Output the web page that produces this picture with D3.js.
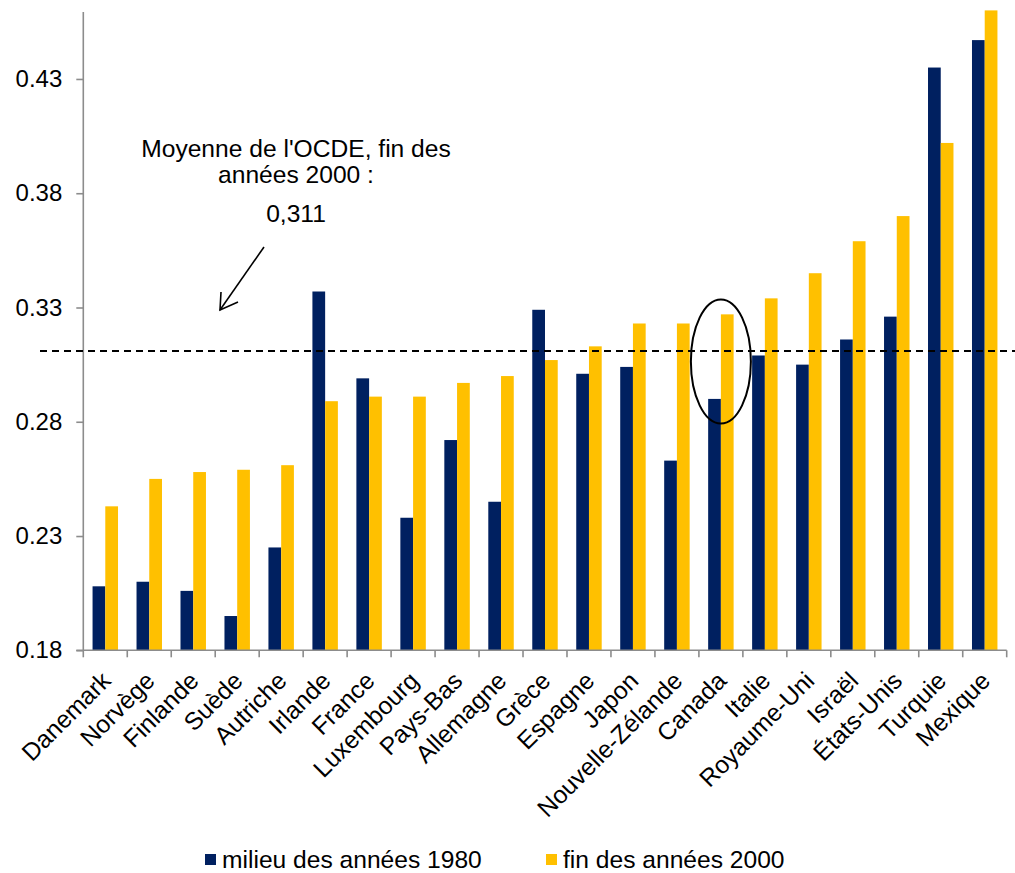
<!DOCTYPE html>
<html>
<head>
<meta charset="utf-8">
<script src="https://cdn.jsdelivr.net/npm/d3@7"></script>
<style>
  html, body { margin: 0; padding: 0; background: #fff; }
  svg { display: block; font-family: "Liberation Sans", Arial, sans-serif; }
</style>
</head>
<body>
<svg id="chart" width="1015" height="873"></svg>
<script>
// Gini coefficients of household income, OECD countries
const countries = ["Danemark", "Norvège", "Finlande", "Suède", "Autriche", "Irlande", "France",
  "Luxembourg", "Pays-Bas", "Allemagne", "Grèce", "Espagne", "Japon", "Nouvelle-Zélande",
  "Canada", "Italie", "Royaume-Uni", "Israël", "États-Unis", "Turquie", "Mexique"];
const mid1980s = [0.208, 0.210, 0.206, 0.195, 0.225, 0.337, 0.299, 0.238, 0.272, 0.245, 0.329,
  0.301, 0.304, 0.263, 0.290, 0.309, 0.305, 0.316, 0.326, 0.435, 0.447];
const late2000s = [0.243, 0.255, 0.258, 0.259, 0.261, 0.289, 0.291, 0.291, 0.297, 0.300, 0.307,
  0.313, 0.323, 0.323, 0.327, 0.334, 0.345, 0.359, 0.370, 0.402, 0.460];
const seriesNames = ["milieu des années 1980", "fin des années 2000"];
const seriesColors = ["#002060", "#FFC000"];
const yTicks = [0.18, 0.23, 0.28, 0.33, 0.38, 0.43];
const oecdAverage = 0.311;
const highlighted = "Canada";

const svg = d3.select("#chart");
const plotLeft = 83.3, plotRight = 1006.7, plotTop = 10.4, plotBottom = 650.3;
const fontSize = 24.6;

const y = d3.scaleLinear().domain([0.18, 0.46]).range([plotBottom, plotTop]);
const x0 = d3.scaleBand().domain(countries).range([plotLeft, plotRight]).padding(0);
const x1 = d3.scaleBand().domain([0, 1]).range([0, x0.bandwidth()])
  .paddingInner(0).paddingOuter(0.727);

const rows = countries.map((c, i) => ({ country: c, values: [mid1980s[i], late2000s[i]] }));

// bars
const groups = svg.append("g").selectAll("g").data(rows).join("g")
  .attr("transform", d => `translate(${x0(d.country)},0)`);
groups.selectAll("rect").data(d => d.values.map((v, k) => ({ v, k })))
  .join("rect")
  .attr("x", d => x1(d.k))
  .attr("width", x1.bandwidth())
  .attr("y", d => y(d.v))
  .attr("height", d => plotBottom - y(d.v))
  .attr("fill", d => seriesColors[d.k]);

// y axis
const yAxis = svg.append("g").attr("transform", `translate(${plotLeft},0)`)
  .call(d3.axisLeft(y).tickValues(yTicks).tickSize(7).tickPadding(14)
    .tickFormat(d3.format(".2f")));
yAxis.select(".domain").attr("d", `M0,${plotTop + 1.5}V${plotBottom}`);
yAxis.selectAll("path, line").attr("stroke", "#8c8c8c").attr("stroke-width", 1.6);
yAxis.selectAll("text").attr("font-size", 24).attr("fill", "#000")
  .attr("font-family", "Liberation Sans, Arial, sans-serif");

// x axis baseline and category boundary ticks
const xa = svg.append("g");
xa.append("line").attr("x1", plotLeft - 7).attr("x2", plotRight)
  .attr("y1", plotBottom).attr("y2", plotBottom)
  .attr("stroke", "#8c8c8c").attr("stroke-width", 1.6);
const bounds = countries.map(c => x0(c))
  .concat([x0(countries[countries.length - 1]) + x0.bandwidth()]);
xa.selectAll("line.tk").data(bounds).join("line").attr("class", "tk")
  .attr("x1", d => d).attr("x2", d => d).attr("y1", plotBottom).attr("y2", plotBottom + 7)
  .attr("stroke", "#8c8c8c").attr("stroke-width", 1.6);

// rotated category labels
svg.append("g").selectAll("text").data(countries).join("text")
  .attr("transform", d => `translate(${x0(d) + x0.bandwidth() / 2 + 7},${plotBottom + 32}) rotate(-45)`)
  .attr("text-anchor", "end")
  .attr("font-size", fontSize)
  .attr("fill", "#000")
  .text(d => d);

// OECD average line
svg.append("line")
  .attr("x1", 40).attr("x2", 1015)
  .attr("y1", y(oecdAverage)).attr("y2", y(oecdAverage))
  .attr("stroke", "#000").attr("stroke-width", 2).attr("stroke-dasharray", "7,5");

// annotation
const note = svg.append("text").attr("text-anchor", "middle").attr("font-size", fontSize).attr("fill", "#000");
note.append("tspan").attr("x", 296).attr("y", 157).text("Moyenne de l'OCDE, fin des");
note.append("tspan").attr("x", 296).attr("y", 183).text("années 2000 :");
svg.append("text").attr("text-anchor", "middle").attr("font-size", fontSize).attr("fill", "#000")
  .attr("x", 296).attr("y", 222).text(d3.format(".3f")(oecdAverage).replace(".", ","));

// arrow
svg.append("line").attr("x1", 264).attr("y1", 247).attr("x2", 220).attr("y2", 310)
  .attr("stroke", "#000").attr("stroke-width", 1.6);
svg.append("path").attr("d", "M221,292 L220,310 L238,302")
  .attr("fill", "none").attr("stroke", "#000").attr("stroke-width", 1.6);

// highlight ellipse
const hx = x0(highlighted) + x0.bandwidth() / 2;
svg.append("ellipse").attr("cx", hx).attr("cy", 361.5).attr("rx", 30).attr("ry", 62)
  .attr("fill", "none").attr("stroke", "#000").attr("stroke-width", 2);

// legend
const legendX = [205, 546];
const lg = svg.append("g").selectAll("g").data(seriesNames).join("g")
  .attr("transform", (d, i) => `translate(${legendX[i]},854)`);
lg.append("rect").attr("width", 11).attr("height", 11).attr("fill", (d, i) => seriesColors[i]);
lg.append("text").attr("x", 17).attr("y", 14).attr("font-size", fontSize).attr("fill", "#000").text(d => d);
</script>
</body>
</html>
